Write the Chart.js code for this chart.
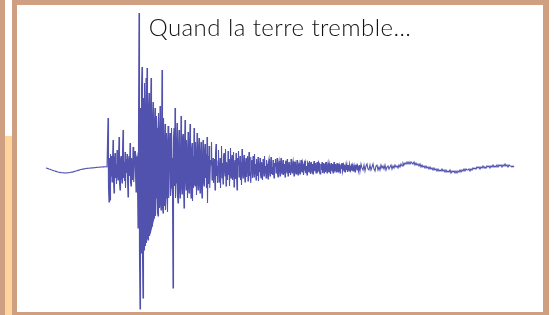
<!DOCTYPE html>
<html>
<head>
<meta charset="utf-8">
<script src="https://cdn.jsdelivr.net/npm/chart.js@4/dist/chart.umd.min.js"></script>
<style>
  html, body { margin: 0; padding: 0; background: #fff; }
  #page { position: relative; width: 554px; height: 315px; overflow: hidden; background: #fff; }
  .strip { position: absolute; left: 0; top: 0; width: 5px; height: 315px; background: #cf9f82; }
  .peach { position: absolute; left: 5px; top: 136px; width: 7px; height: 179px; background: #ffd39c; }
  .frame {
    position: absolute; left: 12px; top: 0; width: 526px; height: 307px;
    border-style: solid; border-color: #cf9f82;
    border-width: 5px 6px 3px 5px; background: #fff;
  }
  #plot { position: absolute; left: 17px; top: 5px; }
  .title {
    position: absolute; left: 17px; top: 12px; width: 526px; text-align: center;
    font-family: Lato, "Open Sans", sans-serif; font-size: 24px; font-weight: 300;
    color: #111; letter-spacing: 0.45px;
  }
</style>
</head>
<body>
<div id="page">
  <div class="strip"></div>
  <div class="peach"></div>
  <div class="frame"></div>
  <canvas id="plot" width="526" height="307"></canvas>
  <div class="title">Quand la terre tremble…</div>
</div>
<script>
// Ground motion before the quake arrives (1 sample per time unit)
const quietTrace = [
  0, -0.3, -0.6, -1, -1.3, -1.7, -2, -2.4, -2.8, -3.1,
  -3.4, -3.7, -4, -4.2, -4.4, -4.6, -4.7, -4.8, -4.9, -5,
  -5, -4.9, -4.8, -4.7, -4.5, -4.3, -4.1, -3.9, -3.6, -3.3,
  -3, -2.7, -2.4, -2.1, -1.8, -1.5, -1.3, -1.1, -0.9, -0.7,
  -0.5, -0.4, -0.3, -0.2, -0.1, 0, 0.1, 0.2, 0.3, 0.4,
  0.5, 0.6, 0.7, 0.8, 0.9, 1, 1, 1.1, 1.1, 1.2,
  1.2, 1.1
];

// Strong shaking (2 samples per time unit)
const shakeTrace = [
  50, -20, -34, 10, -32, 14, -8, 12, -14, 6,
  28, -12, -25, 9, 15, -10, 4, -16, 18, -6,
  -12, 10, 31, -15, -22, 8, 12, -9, -15, 16,
  38, -10, 6, -13, 16, -20, 9, -5, 14, -11,
  -29, 7, 12, -8, 25, -14, -18, 10, 6, -12,
  21, -9, -14, 13, 17, -6, -24, 10, 12, -16,
  -60, 40, 155, -90, -141, 60, -85, 80, 101, -88,
  -130, 70, -82, 85, 50, -78, 90, -75, 100, -70,
  -72, 60, 75, -68, -65, 55, 90, -60, -58, 50,
  66, -52, -50, 45, 60, -48, -30, 52, 40, -45,
  -48, 55, 30, -40, 62, -35, -42, 25, 98, -38,
  -45, 50, 20, -38, 44, -42, -30, 35, 22, -44,
  42, -25, -30, 15, 35, -28, -20, 40, 10, -25,
  -120, 30, 40, -18, 60, -30, -15, 25, 45, -28,
  -35, 20, 38, -22, -30, 12, 52, -18, -26, 30,
  34, -15, -40, 20, 48, -12, -22, 28, 15, -30,
  36, -18, -25, 22, 44, -14, -30, 18, 25, -33,
  12, -20, 40, -16, -18, 26, 10, -27, 35, -12,
  -22, 20, 30, -15, -25, 14, 26, -18, -30, 10,
  28, -14, -18, 16, 24, -10, 14, -20, 31, -35,
  12, -16, 22, -4, -20, 8, 3, 26, -12, -5,
  10, -15, -2, 9, -22, 14, 24, -8, 2, -15,
  7, 18, -14, -6, 10, -20, 4, 22, -10, 5,
  -16, 12, 15, -3, -8, 19, -18, 6, 0, -12,
  17, -7, 9, -18, -2, 20, -10, 4, 13, -12,
  -5, 16, -19, 2, 8, -11, 15, -6, -22, 10,
  3, 17, -9, -2, 12, -12, 6, -17, 19, -4,
  -10, 7, 13, -6, -14, 4, 10, -9, 1, 12,
  -13, 5, 16, -8, -4, 11, -15, 3, 8, -10,
  12, -2, -9, 14, -6, 4, -12, 9, 2, -8,
  11, -13, 5, -4, 10, -7, -10, 6, 3, -12,
  9, -2, -8, 12, -5, 2, -10, 8, 4, -6,
  -11, 6, 9, -3, -8, 4, 11, -6, 1, -7,
  8, -4, -10, 5, 2, 9, -5, -3, 10, -6,
  -9, 4, 7, -2, -8, 5, 10, -4, -6, 3,
  8, -7, -2, 4, -9, 6, 7, -3, -5, 9,
  -8, 2, 6, -5, 3, -7, 9, -1, -5, 4,
  7, -3, -8, 5, 6, -4, -6, 1, 8, -5,
  -7, 3, 5, -4, -6, 2, 8, -3, -4, 6,
  4, -7, -2, 6, 7, -4, -5, 2, -7, 6,
  5, -3, -4, 7, 2, -6, 6, -1, -5, 4,
  -6, 3, 7, -2, -3, 5, -5, 1, 6, -4,
  -3, 6, 5, -4, -6, 2, 4, -2, 6, -5,
  -2, 5, -5, 3, 4, -4, 6, -1, -5, 2,
  5, -3, -4, 4, 2, -6, 5, 0, -3, 4,
  -5, 2, 6, -3, -2, 4, -4, 1, 5, -3,
  -4, 3, 4, -2, -5, 2, 3, -1, 5, -4,
  -2, 4, 3, -3, -4, 1, 4, -2, 2, -4,
  3, -1, -3, 4, 2, -3, -2, 3, 4, -2,
  -3, 1, 3, -2, -4, 2, 3, 0, -2, 3,
  2, -3, -1, 3
];

// Coda and long-period tail (1 sample per time unit)
const codaTrace = [
  -3, 4, 0, -2, 3, -3, 2, 4, -1, -2,
  3, -2, 1, 4, -1, -3, 2, 3, -2, 1,
  -2, 3, 0, 2, -1, 3, -2, 1, 2, -1,
  1, 3, -1, 2, 0, 3, 1, 2, 0, 3,
  1, 4, 2, 5, 3, 5, 4, 6,
  4, 6, 4, 6, 5, 4, 6, 3, 5, 3,
  4, 2, 4, 1, 3, 1, 2, 0, 2, 0,
  1, -1, 1, -1, 0, -2, 0, -2, -1, -3,
  -1, -3, -2, -3, -1, -3, -2, -4, -2, -4,
  -3, -4, -2, -5, -3, -4, -3, -5, -3, -5,
  -3, -4, -2, -4, -2, -3, -1, -3, -1, -2,
  -2, -1, -3, -1, -2, 0, -1, 0, -1, 1,
  0, 1, -1, 1, 0, 2, 0, 1, 0, 2,
  1, 2, 0, 2, 1, 3, 1, 2, 1, 3,
  1, 3, 2, 3, 1, 3, 2, 4, 2, 3,
  1, 3, 2, 2, 1, 2, 1
];

// time axis: each trace has its own sampling step
const samples = [];
let t = 0;
quietTrace.forEach(a => { samples.push({ x: t, y: a }); t += 1; });
shakeTrace.forEach(a => { samples.push({ x: t, y: a }); t += 0.5; });
codaTrace.forEach(a => { samples.push({ x: t, y: a }); t += 1; });

new Chart(document.getElementById('plot'), {
  type: 'line',
  data: {
    datasets: [{
      data: samples,
      borderColor: 'rgba(50, 50, 160, 0.85)',
      borderWidth: 1.1,
      pointRadius: 0,
      tension: 0,
      fill: false
    }]
  },
  options: {
    responsive: false,
    animation: false,
    devicePixelRatio: 1,
    layout: { padding: 0 },
    scales: {
      x: { type: 'linear', display: false, min: -29, max: 497 },
      y: { display: false, min: -144, max: 163 }
    },
    plugins: {
      legend: { display: false },
      tooltip: { enabled: false }
    }
  }
});
</script>
</body>
</html>
